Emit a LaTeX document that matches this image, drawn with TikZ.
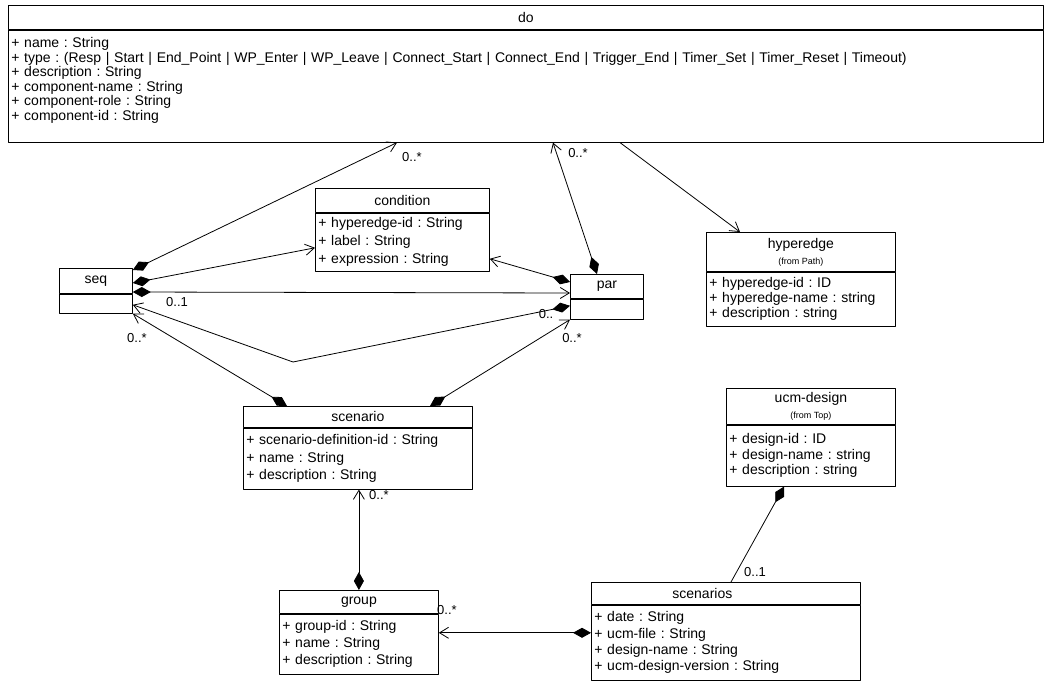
\documentclass[tikz,border=0pt]{standalone}
\usepackage{fontspec}
\setmainfont{Liberation Sans}
\usetikzlibrary{positioning,calc,arrows.meta}
\frenchspacing

\begin{document}
\begin{tikzpicture}[x=1pt, y=-1pt, line join=round, line width=.8pt,
		font=\fontsize{14}{16}\selectfont, >={Straight Barb[length=9pt,width=11pt]},
		head/.style={draw, anchor=north west, inner sep=0pt, align=center},
		body/.style={draw, inner xsep=3pt, inner ysep=0pt, align=left},
		comp/.style={{Diamond[length=18pt,width=10pt]}->},
		mult/.style={inner sep=1pt, font=\fontsize{13}{13}\selectfont}]
	\useasboundingbox (0,0) rectangle (1044,680);
	% classes
	\node[head, minimum width=1035, minimum height=24] (do) at (8,5) {do};
	\node[body, text width=1029, minimum height=112, below=0pt of do, font=\fontsize{14}{14.6}\selectfont] (doA)
		{+ name : String\\
		+ type : (Resp | Start | End\_Point | WP\_Enter | WP\_Leave | Connect\_Start | Connect\_End | Trigger\_End | Timer\_Set | Timer\_Reset | Timeout)\\
		+ description : String\\
		+ component-name : String\\
		+ component-role : String\\
		+ component-id : String\\
		\mbox{}};
	\node[head, minimum width=174, minimum height=24] (condition) at (315,188) {condition};
	\node[body, text width=168, minimum height=58, below=0pt of condition, font=\fontsize{14}{18}\selectfont] (conditionA)
		{+ hyperedge-id : String\\ + label : String\\ + expression : String};
	\node[head, minimum width=73, minimum height=25] (seq) at (59,268) {seq};
	\node[body, text width=67, minimum height=19, below=0pt of seq] (seqA) {};
	\node[head, minimum width=73, minimum height=24] (par) at (570,274) {par};
	\node[body, text width=67, minimum height=20, below=0pt of par] (parA) {};
	\node[head, minimum width=189, minimum height=39] (hyperedge) at (706,232)
		{hyperedge\\{\fontsize{9}{9}\selectfont (from Path)}};
	\node[body, text width=183, minimum height=54, below=0pt of hyperedge, font=\fontsize{14}{15}\selectfont] (hyperedgeA)
		{+ hyperedge-id : ID\\ + hyperedge-name : string\\ + description : string};
	\node[head, minimum width=229, minimum height=21] (scenario) at (243,406) {scenario};
	\node[body, text width=223, minimum height=61, below=0pt of scenario, font=\fontsize{14}{17.5}\selectfont] (scenarioA)
		{+ scenario-definition-id : String\\ + name : String\\ + description : String};
	\node[head, minimum width=159, minimum height=23] (group) at (279,590) {group};
	\node[body, text width=153, minimum height=60, below=0pt of group, font=\fontsize{14}{17}\selectfont] (groupA)
		{+ group-id : String\\ + name : String\\ + description : String};
	\node[head, minimum width=169, minimum height=36] (ucmdesign) at (726,388)
		{ucm-design\\{\fontsize{9}{9}\selectfont (from Top)}};
	\node[body, text width=163, minimum height=61, below=0pt of ucmdesign, font=\fontsize{14}{15.5}\selectfont] (ucmdesignA)
		{+ design-id : ID\\ + design-name : string\\ + description : string};
	\node[head, minimum height=22, text width=269, align=left] (scenarios) at (591,582) {\hspace*{81pt}scenarios};
	\node[body, text width=263, minimum height=75, below=0pt of scenarios, font=\fontsize{14}{16.3}\selectfont] (scenariosA)
		{+ date : String\\ + ucm-file : String\\ + design-name : String\\ + ucm-design-version : String};
	% associations
	\coordinate (kink) at (293,362);
	\coordinate (s) at ($(scenariosA.north west)+(0,28)$);
	\draw[comp] ($(seq.north east)+(0,2)$) -- ($(doA.south west)+(389,0)$);
	\draw[comp] ($(seq.north east)+(0,15)$) -- ($(conditionA.north west)+(0,35)$);
	\draw[comp] ($(seq.north east)+(0,24)$) -- ($(par.north west)+(0,19)$);
	\draw[comp] ($(par.north west)+(0,8)$) -- ($(conditionA.north east)+(0,46)$);
	\draw[comp] ($(par.north west)+(27,0)$) -- ($(doA.south west)+(545,0)$);
	\draw[comp] ($(parA.north west)+(0,7)$) -- (kink) -- ($(seqA.north east)+(0,11)$);
	\draw[->] ($(doA.south west)+(612,0)$) -- ($(hyperedge.north west)+(34,0)$);
	\draw[comp] ($(scenario.north west)+(44,0)$) -- (seqA.south east);
	\draw[comp] ($(scenario.north west)+(187,0)$) -- (parA.south west);
	\draw[comp] (group.north) -- (group.north |- scenarioA.south);
	\draw[comp] (s) -- (s -| groupA.east);
	\draw[{Diamond[length=18pt,width=10pt]}-] ($(ucmdesignA.south west)+(58,0)$) -- ($(scenarios.north west)+(140,0)$);
	% multiplicities
	\foreach \n/\x/\y/\t in {1/412/157/0..*, 2/578/153/0..*, 3/177/302/0..1, 4/137/338/0..*, 5/546/314/0..,
			6/572/338/0..*, 7/379/495/0..*, 8/447/610/0..*, 9/755/572/0..1}
		\node[mult] (m\n) at (\x,\y) {\t};
\end{tikzpicture}
\end{document}
